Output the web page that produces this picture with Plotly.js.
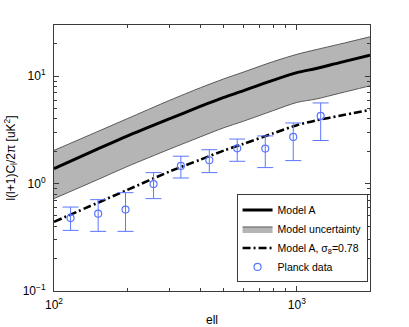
<!DOCTYPE html>
<html>
<head>
<meta charset="utf-8">
<script src="https://cdn.plot.ly/plotly-3.0.1.min.js"></script>
<style>
  html, body { margin: 0; padding: 0; background: #fff; }
  #chart { width: 409px; height: 327px; }
</style>
</head>
<body>
<div id="chart"></div>
<script>
// model curves
const ell = [100, 150, 200, 300, 400, 500, 600, 800, 1000, 1200, 1500, 2000];
const modelA = [1.38, 2.08, 2.77, 4.03, 5.23, 6.35, 7.3, 9.19, 10.8, 11.8, 13.4, 15.7];
const modelHigh = [2.04, 3.03, 4.02, 5.98, 7.8, 9.45, 10.9, 13.7, 16.0, 17.7, 19.9, 23.3];
const modelLow = [0.725, 1.08, 1.44, 2.10, 2.72, 3.31, 3.8, 4.79, 5.7, 6.13, 6.94, 8.14];
const modelSigma8 = [0.441, 0.657, 0.872, 1.30, 1.67, 2.03, 2.34, 2.94, 3.5, 3.88, 4.28, 4.86];

// Planck band powers
const planckEll = [117, 152, 197, 257, 333, 436, 568, 741, 966, 1253];
const planckCl = [0.478, 0.525, 0.573, 0.99, 1.46, 1.65, 2.13, 2.12, 2.72, 4.27];
const planckHi = [0.605, 0.709, 0.824, 1.266, 1.80, 2.07, 2.60, 2.78, 3.67, 5.64];
const planckLo = [0.367, 0.359, 0.359, 0.725, 1.128, 1.266, 1.614, 1.41, 1.638, 2.52];

const xMajor = [100, 1000];
const xMajorText = ["10<sup>2</sup>", "10<sup>3</sup>"];
const xMinor = [200, 300, 400, 500, 600, 700, 800, 900, 2000];
const yMajor = [0.1, 1, 10];
const yMajorText = ["10<sup>−1</sup>", "10<sup>0</sup>", "10<sup>1</sup>"];
const yMinor = [0.2, 0.3, 0.4, 0.5, 0.6, 0.7, 0.8, 0.9, 2, 3, 4, 5, 6, 7, 8, 9, 20, 30];

const blue = "#5b77ff";
const edge = "#3a3a3a";

const traces = [
  {
    x: ell, y: modelLow, mode: "lines",
    line: { color: edge, width: 0.8, shape: "spline", smoothing: 0.8 },
    showlegend: false, hoverinfo: "skip"
  },
  {
    x: ell, y: modelHigh, mode: "lines", name: "Model uncertainty",
    fill: "tonexty", fillcolor: "#b5b5b5",
    line: { color: edge, width: 0.8, shape: "spline", smoothing: 0.8 },
    legendrank: 2
  },
  {
    x: ell, y: modelA, mode: "lines", name: "Model A",
    line: { color: "#000", width: 3, shape: "spline", smoothing: 0.8 },
    legendrank: 1
  },
  {
    x: ell, y: modelSigma8, mode: "lines", name: "Model A, σ<sub>8</sub>=0.78",
    line: { color: "#000", width: 2.6, dash: "8px,3px,2px,3px", shape: "spline", smoothing: 0.8 },
    legendrank: 3
  },
  {
    x: planckEll, y: planckCl, mode: "markers", name: "Planck data",
    marker: { symbol: "circle-open", size: 7, color: blue, line: { width: 1.2, color: blue } },
    error_y: {
      type: "data", symmetric: false,
      array: planckHi.map((h, i) => h - planckCl[i]),
      arrayminus: planckLo.map((l, i) => planckCl[i] - l),
      color: blue, thickness: 1, width: 8
    },
    legendrank: 4
  }
];

const axisBase = {
  type: "log",
  showgrid: false, zeroline: false,
  showline: true, linecolor: edge, linewidth: 1, mirror: "ticks",
  ticks: "inside", ticklen: 5, tickcolor: edge, tickwidth: 1,
  tickfont: { size: 12, color: "#000" },
  minor: { ticks: "inside", ticklen: 3, tickcolor: edge, tickwidth: 1, showgrid: false }
};

const layout = {
  width: 409, height: 327,
  paper_bgcolor: "#fff", plot_bgcolor: "#fff",
  margin: { l: 54, r: 39, t: 25, b: 36 },
  font: { family: "Liberation Sans, Arial, sans-serif", size: 12, color: "#000" },
  showlegend: true,
  xaxis: {
    ...axisBase,
    range: [2, Math.log10(2000)],
    tickmode: "array", tickvals: xMajor, ticktext: xMajorText,
    ticklabelstandoff: 3,
    minor: { ...axisBase.minor, tickmode: "array", tickvals: xMinor },
    title: { text: "ell", font: { size: 12 }, standoff: 10 }
  },
  yaxis: {
    ...axisBase,
    range: [-1, Math.log10(30)],
    tickmode: "array", tickvals: yMajor, ticktext: yMajorText,
    ticklabelstandoff: 5,
    minor: { ...axisBase.minor, tickmode: "array", tickvals: yMinor },
    title: { text: "l(l+1)C<sub>l</sub>/2π [uK<sup>2</sup>]", font: { size: 12 }, standoff: 4 }
  },
  legend: {
    x: 0.785, xanchor: "center", y: 0.363, yanchor: "top",
    traceorder: "normal",
    bgcolor: "#fff", bordercolor: edge, borderwidth: 1,
    font: { size: 10.5 }, tracegroupgap: 0, itemwidth: 30
  }
};

Plotly.newPlot("chart", traces, layout, { displayModeBar: false, staticPlot: true });
</script>
</body>
</html>
